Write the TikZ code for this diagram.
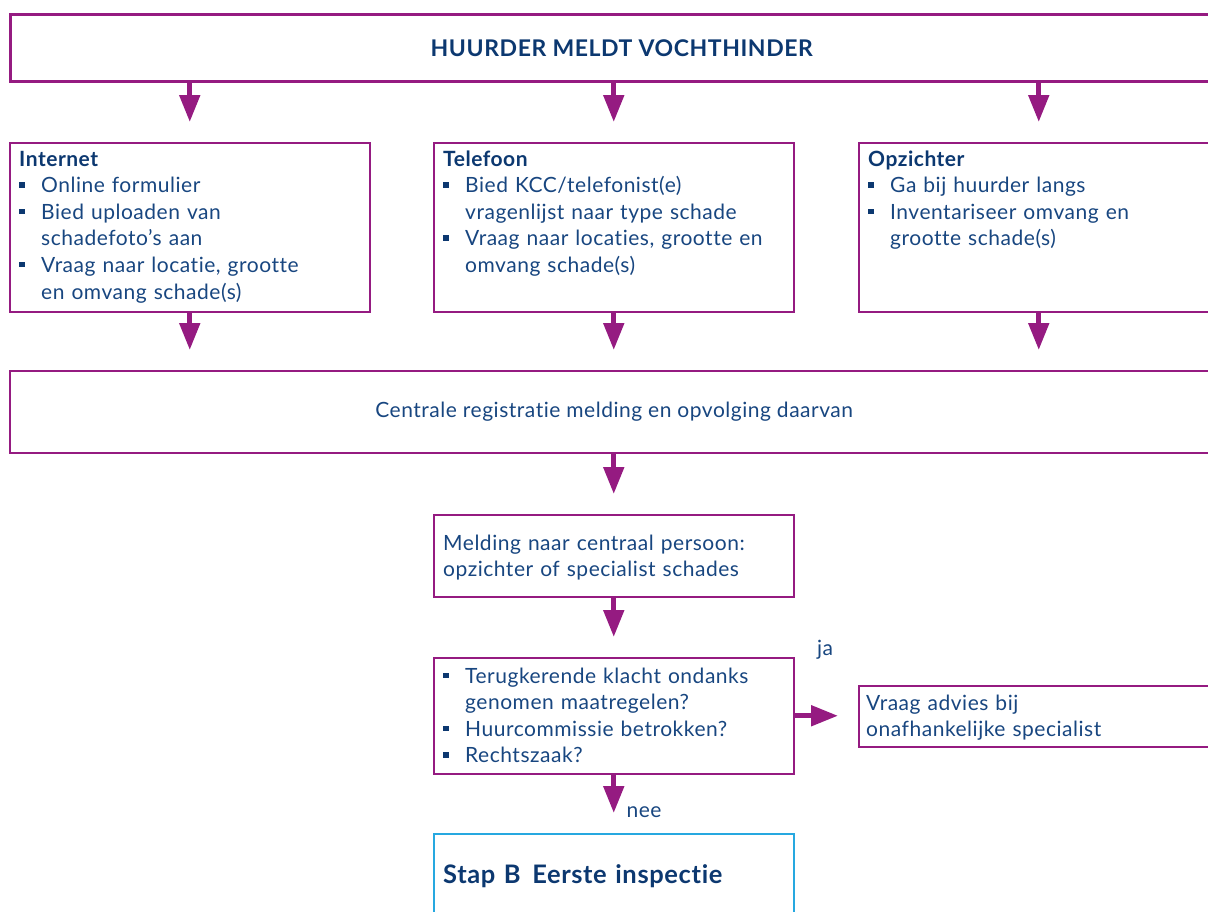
\documentclass[tikz,border=0pt]{standalone}
\usepackage{fontspec}
\setmainfont{Lato}[LetterSpace=2.5, Ligatures={NoCommon}]
\usepackage{tikz}
\usetikzlibrary{arrows.meta,positioning}
\definecolor{vpurple}{RGB}{149,27,129}
\definecolor{txtblue}{RGB}{24,70,128}
\definecolor{headblue}{RGB}{12,56,112}
\definecolor{stapblue}{RGB}{38,168,224}

\newlength\bulind
\setlength\bulind{22pt}
\newcommand\bul[1]{\noindent\hangindent=\bulind\hangafter=1%
  \makebox[\bulind][l]{\textcolor{headblue}{\rule[5pt]{6pt}{5.5pt}}}#1\par}
\newcommand\kop[1]{\textcolor{headblue}{\bfseries #1}\par}

\tikzset{
  boxframe/.style={draw=vpurple, line width=1.5pt, inner sep=0pt, anchor=north west, minimum width=360pt},
  txt/.style={text=txtblue, anchor=base west, inner sep=0pt, text width=345pt, align=left, font=\fontsize{21}{26.6}\selectfont},
  lbl/.style={text=txtblue, anchor=base, inner sep=0pt, font=\fontsize{21}{26.6}\selectfont},
  flow/.style={vpurple, line width=5pt, shorten >=20pt, -{Triangle[length=27pt,width=20pt]}},
}

\begin{document}
\begin{tikzpicture}[x=1pt, y=-1pt]
\useasboundingbox (0,0) rectangle (1208,911);

% melding door huurder
\node[boxframe, line width=2.5pt, minimum width=1223pt, minimum height=67pt, text=headblue, font=\bfseries\fontsize{23}{26}\selectfont] (huurder) at (9,13) {HUURDER MELDT VOCHTHINDER};

% drie kanalen
\node[boxframe, minimum height=169pt] (internet) at (9,142) {};
\node[boxframe, minimum height=169pt] (telefoon) at (433,142) {};
\node[boxframe, minimum height=169pt] (opzichter) at (858,142) {};
\node[txt] (internettxt) at (19,166) {\kop{Internet}\bul{Online formulier}\bul{Bied uploaden van\newline schadefoto’s aan}\bul{Vraag naar locatie, grootte\newline en omvang schade(s)}};
\node[txt] (telefoontxt) at (443,166) {\kop{Telefoon}\bul{Bied KCC/telefonist(e)\newline vragenlijst naar type schade}\bul{Vraag naar locaties, grootte en\newline omvang schade(s)}};
\node[txt] (opzichtertxt) at (868,166) {\kop{Opzichter}\bul{Ga bij huurder langs}\bul{Inventariseer omvang en\newline grootte schade(s)}};

% registratie
\node[boxframe, minimum width=1209pt, minimum height=82pt, text=txtblue, font=\fontsize{21}{26.6}\selectfont] (centraal) at (9,370) {Centrale registratie melding en opvolging daarvan};

\node[boxframe, minimum height=82pt] (melding) at (433,514) {};
\node[txt] (meldingtxt) at (443,550) {Melding naar centraal persoon:\\opzichter of specialist schades};

\node[boxframe, minimum height=116pt] (vragen) at (433,657) {};
\node[txt] (vragentxt) at (443,683) {\bul{Terugkerende klacht ondanks\newline genomen maatregelen?}\bul{Huurcommissie betrokken?}\bul{Rechtszaak?}};

\node[boxframe, minimum height=61pt] (advies) at (858,685) {};
\node[txt] (adviestxt) at (866,710) {Vraag advies bij\\onafhankelijke specialist};

\node[boxframe, draw=stapblue, minimum height=130pt] (stapb) at (433,833) {};
\node[txt, text=headblue, font=\bfseries\fontsize{25.5}{32}\selectfont] (stapbtxt) at (443,883) {Stap B\hspace{0.45em}Eerste inspectie};

\node[lbl] (ja) at (825,655) {ja};
\node[lbl] (nee) at (644,817) {nee};

% pijlen
\foreach \b in {internet,telefoon,opzichter}{
  \draw[flow] (\b.north |- huurder.south) -- (\b.north);
  \draw[flow] (\b.south) -- (\b.south |- centraal.north);
}
\draw[flow] (melding.north |- centraal.south) -- (melding.north);
\draw[flow] (melding.south) -- (vragen.north);
\draw[flow] (vragen.east) -- (vragen.east -| advies.west);
\draw[flow] (vragen.south) -- (stapb.north);
\end{tikzpicture}
\end{document}
